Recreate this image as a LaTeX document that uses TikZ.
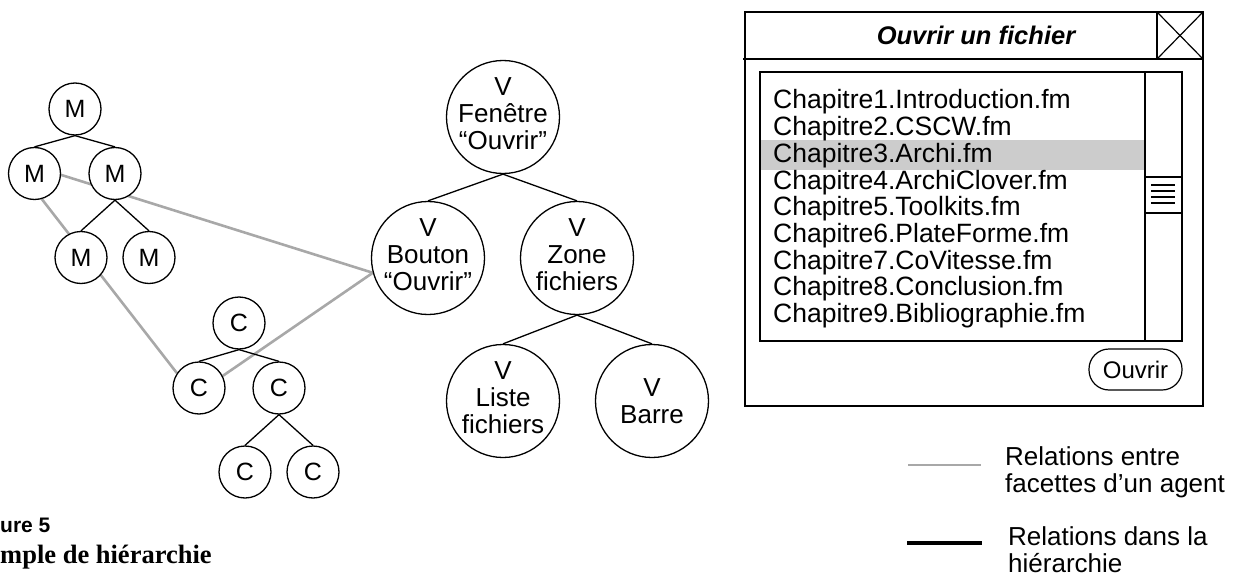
\documentclass[tikz,border=0pt]{standalone}
\usepackage{fontspec}
\setmainfont{Liberation Sans}
\newfontfamily\capserif{Liberation Serif}
\newcommand\fsz[2]{\fontsize{#1}{#2}\selectfont}
\definecolor{facetgray}{RGB}{168,168,168}
\definecolor{selgray}{RGB}{204,204,204}
\pgfdeclarelayer{bg}
\pgfsetlayers{bg,main}
\tikzset{
  hier/.style={line width=1.3pt, black},
  facet/.style={line width=2.6pt, facetgray},
  smallnode/.style={circle, draw, line width=1.3pt, fill=white, minimum size=52pt,
    inner sep=0pt, font=\fsz{25}{27}},
  bignode/.style={circle, draw, line width=1.3pt, fill=white, minimum size=113pt,
    inner sep=0pt},
  vtext/.style={align=center, font=\fsz{26}{27}, inner sep=0pt, yshift=3pt},
  win/.style={line width=2pt, black},
  listline/.style={anchor=base west, inner sep=0pt, font=\fsz{26.5}{27}},
  legtext/.style={anchor=base west, inner sep=0pt, font=\fsz{26}{27}},
}
\begin{document}
\begin{tikzpicture}[x=1pt,y=-1pt]
\useasboundingbox (0,0) rectangle (1242,575);

% M hierarchy
\node[smallnode] (m1) at (75,109) {M};
\node[smallnode] (m2) at (34.5,173.5) {M};
\node[smallnode] (m3) at (115,173.5) {M};
\node[smallnode] (m4) at (81,257.5) {M};
\node[smallnode] (m5) at (149,257.5) {M};

% C hierarchy
\node[smallnode] (c1) at (239,323) {C};
\node[smallnode] (c2) at (199,388) {C};
\node[smallnode] (c3) at (279,388) {C};
\node[smallnode] (c4) at (245,472) {C};
\node[smallnode] (c5) at (313,472) {C};

% V hierarchy
\node[bignode, label={[vtext]center:V\\Fenêtre\\“Ouvrir”}] (fen) at (503,117) {};
\node[bignode, label={[vtext]center:V\\Bouton\\“Ouvrir”}] (bou) at (428,258) {};
\node[bignode, label={[vtext]center:V\\Zone\\fichiers}] (zon) at (577,258) {};
\node[bignode, label={[vtext]center:V\\Liste\\fichiers}] (lis) at (503,401) {};
\node[bignode, label={[vtext,yshift=-3pt]center:V\\Barre}] (bar) at (652,401) {};

% hierarchy links
\draw[hier] (m1.south) -- (m2.north);
\draw[hier] (m1.south) -- (m3.north);
\draw[hier] (m3.south) -- (m4.north);
\draw[hier] (m3.south) -- (m5.north);
\draw[hier] (c1.south) -- (c2.north);
\draw[hier] (c1.south) -- (c3.north);
\draw[hier] (c3.south) -- (c4.north);
\draw[hier] (c3.south) -- (c5.north);
\draw[hier] (fen.south) -- (bou.north);
\draw[hier] (fen.south) -- (zon.north);
\draw[hier] (zon.south) -- (lis.north);
\draw[hier] (zon.south) -- (bar.north);

% facet links, passing behind the circles
\begin{pgfonlayer}{bg}
\draw[facet] (m2.-3) -- (bou.195);
\draw[facet] (m2.-74) -- (c2.146);
\draw[facet] (c2.27) -- (bou.195);
\end{pgfonlayer}

% dialog window
\draw[win] (745,12) rectangle (1203,406);
\draw[win] (743,59) -- (1203,59);
\draw[line width=1.2pt] (1157,12) rectangle (1203,59);
\draw[line width=1.2pt] (1157,12) -- (1203,59);
\draw[line width=1.2pt] (1203,12) -- (1157,59);
\node[font=\fsz{25.5}{30}\bfseries\itshape, anchor=base, inner sep=0pt] (title) at (976,45) {Ouvrir un fichier};

% file list
\fill[selgray] (761,140) rectangle (1144,170);
\draw[win] (760,72) rectangle (1182,341);
\draw[win] (1145,72) -- (1145,341);
\draw[win] (1145,177) -- (1182,177);
\draw[win] (1145,213) -- (1182,213);
\foreach \yy in {185,191,197,203}
  \draw[line width=1.6pt] (1151,\yy) -- (1175,\yy);
\foreach \name [count=\i] in {Chapitre1.Introduction.fm, Chapitre2.CSCW.fm,
    Chapitre3.Archi.fm, Chapitre4.ArchiClover.fm, Chapitre5.Toolkits.fm,
    Chapitre6.PlateForme.fm, Chapitre7.CoVitesse.fm, Chapitre8.Conclusion.fm,
    Chapitre9.Bibliographie.fm}
  \node[listline] (file\i) at (773,{109+(\i-1)*26.7}) {\name};

% open button
\node[draw, line width=1.2pt, rounded corners=20pt, minimum width=93pt,
  minimum height=41pt, inner sep=0pt, font=\fsz{24}{27}] (btn) at (1135.5,369.5) {Ouvrir};

% legend
\coordinate (lgA) at (908,465);
\coordinate (lgB) at (981,465);
\coordinate (lgC) at (907,543);
\coordinate (lgD) at (982,543);
\draw[line width=2.7pt, facetgray] (lgA) -- (lgB);
\draw[line width=3.2pt, black] (lgC) -- (lgD);
\node[legtext] (lt1) at (1005,465) {Relations entre};
\node[legtext] (lt2) at (1005,492) {facettes d’un agent};
\node[legtext] (lt3) at (1008,545) {Relations dans la};
\node[legtext] (lt4) at (1008,572) {hiérarchie};

% caption
\node[anchor=base west, inner sep=0pt, font=\fsz{21}{24}\bfseries] (cap1) at (0,532) {ure 5};
\node[anchor=base west, inner sep=0pt, font=\fsz{26.5}{28}\capserif\bfseries] (cap2) at (0,563) {mple de hiérarchie};
\end{tikzpicture}
\end{document}
